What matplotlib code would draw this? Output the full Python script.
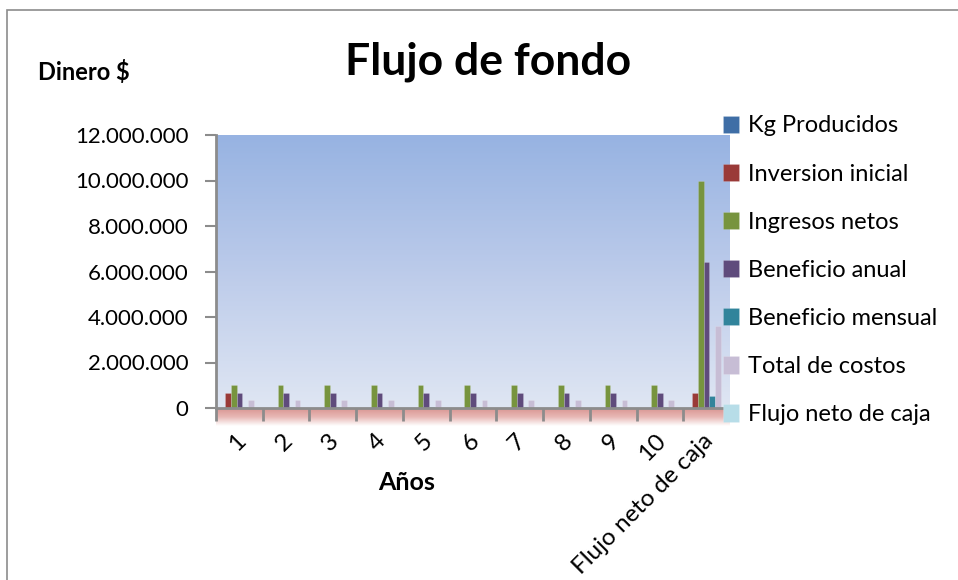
import numpy as np
import matplotlib
matplotlib.use("Agg")
import matplotlib.pyplot as plt
from matplotlib.colors import LinearSegmentedColormap
from matplotlib.patches import Rectangle
from matplotlib.ticker import FuncFormatter, MultipleLocator

plt.rcParams['font.family'] = ['Lato', 'DejaVu Sans']

# Categories on the x axis
categorias = ["1", "2", "3", "4", "5", "6", "7", "8", "9", "10", "Flujo neto de caja"]

# Series values (pesos)
kg_producidos      = [1000] * 10 + [10000]
inversion_inicial  = [660000, 0, 0, 0, 0, 0, 0, 0, 0, 0, 660000]
ingresos_netos     = [1000000] * 10 + [10000000]
beneficio_anual    = [640000] * 10 + [6400000]
beneficio_mensual  = [53333] * 10 + [533333]
total_costos       = [360000] * 10 + [3600000]
flujo_neto_caja    = [0] * 10 + [0]

series = [
    ("Kg Producidos", kg_producidos, "#3f6ea6"),
    ("Inversion inicial", inversion_inicial, "#9a3a38"),
    ("Ingresos netos", ingresos_netos, "#77943e"),
    ("Beneficio anual", beneficio_anual, "#5f4b7c"),
    ("Beneficio mensual", beneficio_mensual, "#31849b"),
    ("Total de costos", total_costos, "#c7bdd5"),
    ("Flujo neto de caja", flujo_neto_caja, "#b7dde8"),
]

W, H = 958, 580
fig = plt.figure(figsize=(W / 100, H / 100), dpi=100)

# outer chart border
fig.patches.append(Rectangle((7 / W, -0.1), 2, 1 - 10 / H + 0.1, transform=fig.transFigure,
                             fill=False, edgecolor="#8c8c8c", linewidth=1.2))

ax_l, ax_r, ax_t, ax_b = 216, 730, 135, 408
# pink floor under the plot area
floor = fig.add_axes([ax_l / W, 1 - 426 / H, (ax_r - ax_l) / W, (426 - ax_b) / H], zorder=0)
floor_cmap = LinearSegmentedColormap.from_list("floor", ["#d99592", "#e8b8b6", "#ffffff"])
floor.imshow(np.linspace(0, 1, 64).reshape(-1, 1), aspect="auto", cmap=floor_cmap,
             extent=[0, 1, 0, 1])
floor.axis("off")

ax = fig.add_axes([ax_l / W, 1 - ax_b / H, (ax_r - ax_l) / W, (ax_b - ax_t) / H], zorder=1)
ax.set_xlim(0, len(categorias))
ax.set_ylim(0, 12000000)

# blue wall gradient
wall_cmap = LinearSegmentedColormap.from_list("wall", ["#dfe6f3", "#bccbea", "#97b3e2"])
ax.imshow(np.linspace(0, 1, 128).reshape(-1, 1), aspect="auto", cmap=wall_cmap,
          extent=[0, len(categorias), 0, 12000000], origin="lower", zorder=0)

n = len(series)
bw = 0.122
x = np.arange(len(categorias)) + 0.5
handles = []
for i, (name, vals, col) in enumerate(series):
    h = ax.bar(x + (i - (n - 1) / 2) * bw, vals, width=bw, color=col,
               edgecolor=(1, 1, 1, 0.25), linewidth=0.4, label=name, zorder=2)
    handles.append(h)

ax.yaxis.set_major_locator(MultipleLocator(2000000))
ax.yaxis.set_major_formatter(FuncFormatter(lambda v, p: f"{int(v):,}".replace(",", ".")))
ax.set_xticks(np.arange(len(categorias) + 1))
ax.set_xticklabels([])
ax.set_xticks(x + 0.06, minor=True)
ax.set_xticklabels(categorias, minor=True, rotation=45, ha="right", va="center",
                   rotation_mode="anchor", fontsize=17.5)
ax.tick_params(axis="x", which="minor", length=0, pad=21)
ax.tick_params(axis="x", which="major", length=9, width=2, color="#8c8c8c", direction="out")
ax.tick_params(axis="y", length=8, width=1.5, color="#8c8c8c", labelsize=16, pad=12)
for side in ("top", "right"):
    ax.spines[side].set_visible(False)
for side in ("left", "bottom"):
    ax.spines[side].set_color("#8c8c8c")
    ax.spines[side].set_linewidth(2)

fig.text(488 / W, 1 - 62 / H, "Flujo de fondo", ha="center", va="center",
         fontsize=32, fontweight="bold")
fig.text(84 / W, 1 - 72 / H, "Dinero $", ha="center", va="center",
         fontsize=17, fontweight="bold")
fig.text(407 / W, 1 - 483 / H, "Años", ha="center", va="center",
         fontsize=18, fontweight="bold")

fig.legend(handles=handles, loc="upper left", bbox_to_anchor=(714 / W, 1 - 106 / H),
           frameon=False, fontsize=17, handlelength=0.65, handleheight=0.75,
           handletextpad=0.4, labelspacing=1.15, borderaxespad=0)

fig.savefig("out.png", dpi=100)
